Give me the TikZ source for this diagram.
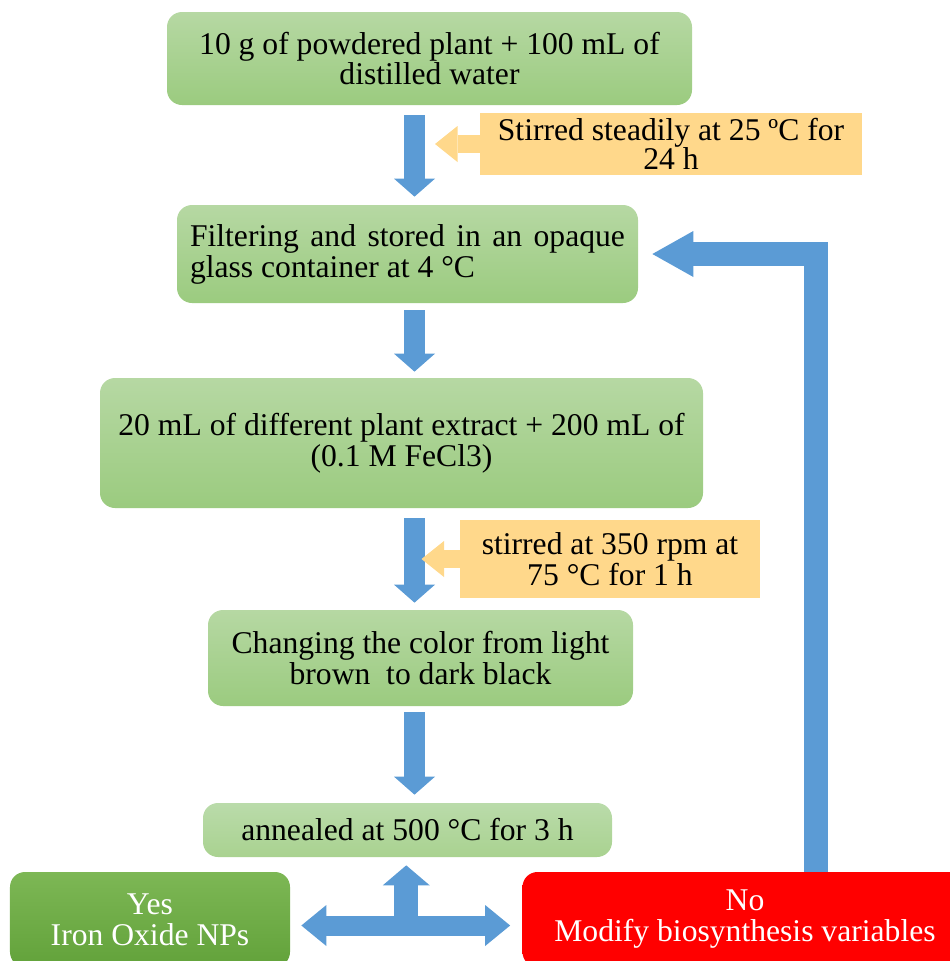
\documentclass[tikz,border=0pt]{standalone}
\usepackage{fontspec}
\setmainfont{Liberation Serif}
\usetikzlibrary{arrows.meta,positioning,calc}

\definecolor{stagetop}{HTML}{B6D8A3}
\definecolor{stagebot}{HTML}{9BCB7F}
\definecolor{lighttop}{HTML}{BADBAA}
\definecolor{lightbot}{HTML}{A9D290}
\definecolor{noteorange}{HTML}{FFD88B}
\definecolor{flowblue}{HTML}{5B9BD5}
\definecolor{yestop}{HTML}{7DB755}
\definecolor{yesbot}{HTML}{62A23A}
\definecolor{nored}{HTML}{FF0000}

\begin{document}
\begin{tikzpicture}[
        stage/.style={rounded corners=0.3cm, top color=stagetop, bottom color=stagebot,
            draw=none, align=center, font=\fontsize{18}{17.6}\selectfont},
        light-stage/.style={stage, top color=lighttop, bottom color=lightbot},
        note-box/.style={fill=noteorange, draw=none, align=center, font=\fontsize{18}{16.5}\selectfont},
        yes-box/.style={stage, top color=yestop, bottom color=yesbot, text=white},
        no-box/.style={stage, top color=nored, bottom color=nored, text=white},
        flow/.style={draw=flowblue, line width=0.42cm,
            -{Triangle[width=0.82cm, length=0.36cm, line width=0pt]}},
        flow-both/.style={draw=flowblue, line width=0.4cm,
            {Triangle[width=0.82cm, length=0.5cm, line width=0pt]}-{Triangle[width=0.82cm, length=0.5cm, line width=0pt]}},
        hint/.style={draw=noteorange, line width=0.36cm,
            -{Triangle[width=0.72cm, length=0.45cm, line width=0pt]}},
        loop-back/.style={draw=flowblue, line width=0.48cm, line join=miter,
            -{Triangle[width=0.92cm, length=0.82cm, line width=0pt]}},
    ]
        \clip (0,0) rectangle (19,-19.22);

        % Process steps
        \node[stage, minimum width=10.5cm, minimum height=1.86cm] (S1) at (8.59,-1.17)
            {10 g of powdered plant + 100 mL of\\distilled water};
        \node[stage, minimum width=9.22cm, minimum height=1.96cm, text width=8.7cm, align=justify] (S2) at (8.15,-5.08)
            {Filtering and stored in an opaque\linebreak glass container at 4 °C};
        \node[stage, minimum width=12.06cm, minimum height=2.6cm] (S3) at (8.03,-8.86)
            {20 mL of different plant extract + 200 mL of\\(0.1 M FeCl3)};
        \node[stage, minimum width=8.5cm, minimum height=1.92cm] (S4) at (8.41,-13.16)
            {Changing the color from light\\brown\ \ to dark black};
        \node[light-stage, minimum width=8.18cm, minimum height=1.08cm] (S5) at (8.15,-16.6)
            {annealed at 500 °C for 3 h};

        % Conditions
        \node[note-box, minimum width=7.64cm, minimum height=1.2cm] (C1) at (13.42,-2.88)
            {Stirred steadily at 25 ºC for\\24 h};
        \node[note-box, minimum width=6.0cm, minimum height=1.56cm] (C2) at (12.2,-11.18)
            {stirred at 350 rpm at\\75 °C for 1 h};

        % Outcomes
        \node[yes-box, minimum width=5.6cm, minimum height=1.9cm] (Y) at (3.0,-18.39)
            {Yes\\Iron Oxide NPs};
        \node[no-box, minimum width=8.9cm, minimum height=1.9cm] (N) at (14.9,-18.39)
            {No\\Modify biosynthesis variables};

        % Helper coordinates
        \coordinate (col) at (8.29,0);
        \coordinate (rx) at (16.31,0);
        \coordinate (jn) at ($(Y.east)!0.5!(N.west) + (0,-0.12)$);

        % Main flow
        \draw[flow, shorten <=0.2cm, shorten >=0.16cm] (S1.south -| col) -- (S2.north -| col);
        \draw[flow, shorten <=0.14cm, shorten >=0.12cm] (S2.south -| col) -- (S3.north -| col);
        \draw[flow, shorten <=0.2cm, shorten >=0.14cm] (S3.south -| col) -- (S4.north -| col);
        \draw[flow, shorten <=0.12cm, shorten >=0.16cm] (S4.south -| col) -- (S5.north -| col);

        % Condition pointers
        \draw[hint, shorten >=0.41cm] (C1.west) -- (C1.west -| col);
        \draw[hint, shorten >=0.14cm] (C2.west) -- (C2.west -| col);

        % Decision arrows
        \draw[flow-both, shorten <=0.22cm, shorten >=0.24cm] ([yshift=-0.12cm]Y.east) -- ([yshift=-0.12cm]N.west);
        \draw[draw=flowblue, line width=0.48cm, -{Triangle[width=0.94cm, length=0.4cm, line width=0pt]},
            shorten >=0.16cm] (jn) -- (S5.south -| jn);

        % Back to filtering
        \draw[loop-back, shorten >=0.28cm] (N.north -| rx) |- (S2.east);
    \end{tikzpicture}
\end{document}
